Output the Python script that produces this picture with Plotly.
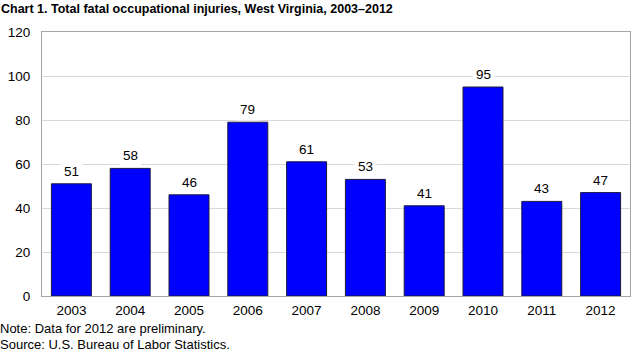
import plotly.graph_objects as go

years = ["2003", "2004", "2005", "2006", "2007", "2008", "2009", "2010", "2011", "2012"]
fatalities = [51, 58, 46, 79, 61, 53, 41, 95, 43, 47]
y_ticks = [0, 20, 40, 60, 80, 100, 120]

FONT = "Liberation Sans, Arial, sans-serif"

fig = go.Figure()
fig.add_trace(go.Bar(
    x=years, y=fatalities,
    marker=dict(color="#0000ff", line=dict(color="#1a1a40", width=1)),
    width=0.68,
    hoverinfo="x+y",
))

# value labels (category axis annotations use category index)
for i, v in enumerate(fatalities):
    fig.add_annotation(x=i, y=v, text=str(v), showarrow=False, yanchor="bottom",
                       yshift=1, bgcolor="white", borderpad=3,
                       font=dict(family=FONT, size=13.5, color="black"))

fig.update_layout(
    width=639, height=353,
    margin=dict(l=41, r=8, t=32, b=57),
    paper_bgcolor="white", plot_bgcolor="white",
    showlegend=False,
    font=dict(family=FONT, size=13, color="black"),
    xaxis=dict(type="category", range=[-0.5, len(years) - 0.5], showgrid=False,
               showline=True, linecolor="#a6a6a6", linewidth=1, mirror=True, ticks="",
               tickfont=dict(size=13.5), ticklabelstandoff=2),
    yaxis=dict(range=[0, 120], tickvals=y_ticks, showgrid=True, gridcolor="#d9d9d9",
               gridwidth=1, showline=True, linecolor="#a6a6a6", linewidth=1, mirror=True,
               ticks="", tickfont=dict(size=13.5), ticklabelstandoff=8, zeroline=False),
)

fig.add_annotation(xref="paper", yref="paper", x=-41/590, xshift=-2, y=1, yshift=32,
                   xanchor="left", yanchor="top", showarrow=False,
                   text="<b>Chart 1. Total fatal occupational injuries, West Virginia, 2003\u20132012</b>",
                   font=dict(family=FONT, size=12.5, color="black"))
fig.add_annotation(xref="paper", yref="paper", x=-41/590, xshift=-2, y=0, yshift=-41,
                   xanchor="left", yanchor="bottom", showarrow=False, align="left",
                   borderpad=0, text="Note: Data for 2012 are preliminary.",
                   font=dict(family=FONT, size=13, color="black"))
fig.add_annotation(xref="paper", yref="paper", x=-41/590, xshift=-2, y=0, yshift=-57,
                   xanchor="left", yanchor="bottom", showarrow=False, align="left",
                   borderpad=0, text="Source: U.S. Bureau of Labor Statistics.",
                   font=dict(family=FONT, size=13, color="black"))

fig.write_html("out.html")
